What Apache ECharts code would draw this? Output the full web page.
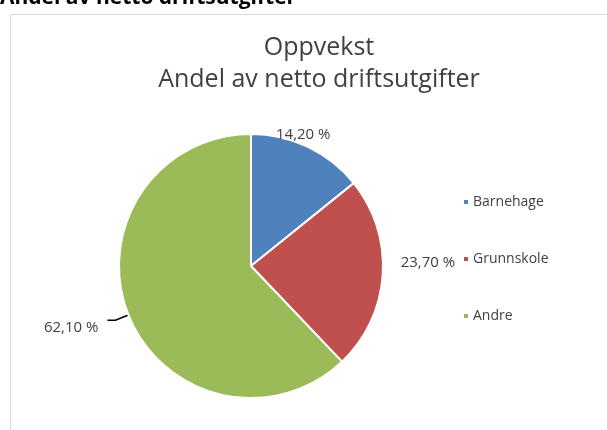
<!DOCTYPE html>
<html>
<head>
<meta charset="utf-8">
<script src="https://cdn.jsdelivr.net/npm/echarts@6/dist/echarts.min.js"></script>
<style>
html, body { margin: 0; padding: 0; background: #fff; }
#chart { width: 607px; height: 430px; }
</style>
</head>
<body>
<div id="chart"></div>
<script>
var categories = ['Barnehage', 'Grunnskole', 'Andre'];
var shares = [14.2, 23.7, 62.1];
var colors = ['#4F81BD', '#C0504D', '#9BBB59'];
var titleLines = ['Oppvekst', 'Andel av netto driftsutgifter'];

var font = '"Open Sans", "Noto Sans", sans-serif';

function fmt(v) {
  return v.toFixed(2).replace('.', ',') + ' %';
}

var pieData = categories.map(function (name, i) {
  return {
    name: name,
    value: shares[i],
    itemStyle: { color: colors[i] },
    labelLine: { show: i === 2 }
  };
});

// nudges so the labels sit where excel put them
var labelNudge = [[-51, 0], [-9, -13], [-4, 8]];

var chart = echarts.init(document.getElementById('chart'));
chart.setOption({
  animation: false,
  title: {
    text: titleLines.join('\n'),
    left: 314,
    top: 27,
    textAlign: 'center',
    textStyle: {
      fontFamily: font,
      fontWeight: 'normal',
      fontSize: 25,
      lineHeight: 32,
      color: '#404040'
    }
  },
  graphic: [
    {
      type: 'rect',
      shape: { x: 10.5, y: 14.5, width: 640, height: 440 },
      style: { fill: 'none', stroke: '#d9d9d9', lineWidth: 1 },
      z: -1
    },
    {
      type: 'text',
      left: 0,
      top: -12,
      style: {
        text: 'Andel av netto driftsutgifter',
        fontFamily: font,
        fontWeight: 'bold',
        fontSize: 21,
        fill: '#000'
      }
    }
  ],
  legend: {
    orient: 'vertical',
    left: 457,
    top: 190,
    itemWidth: 6,
    itemHeight: 6,
    itemGap: 43,
    icon: 'rect',
    textStyle: { fontFamily: font, fontSize: 14, color: '#404040', padding: [0, 0, 0, -1] },
    data: categories
  },
  series: [{
    type: 'pie',
    center: [251, 266],
    radius: 132,
    startAngle: 90,
    clockwise: true,
    itemStyle: { borderColor: '#fff', borderWidth: 2 },
    label: {
      show: true,
      position: 'outside',
      fontFamily: font,
      fontSize: 15,
      color: '#404040',
      formatter: function (p) { return fmt(p.value); }
    },
    labelLine: {
      length: 14,
      length2: 8,
      lineStyle: { color: '#000', width: 1.5 }
    },
    labelLayout: function (p) {
      var n = labelNudge[p.dataIndex];
      return { dx: n[0], dy: n[1] };
    },
    emphasis: { disabled: true },
    data: pieData
  }]
});
</script>
</body>
</html>
